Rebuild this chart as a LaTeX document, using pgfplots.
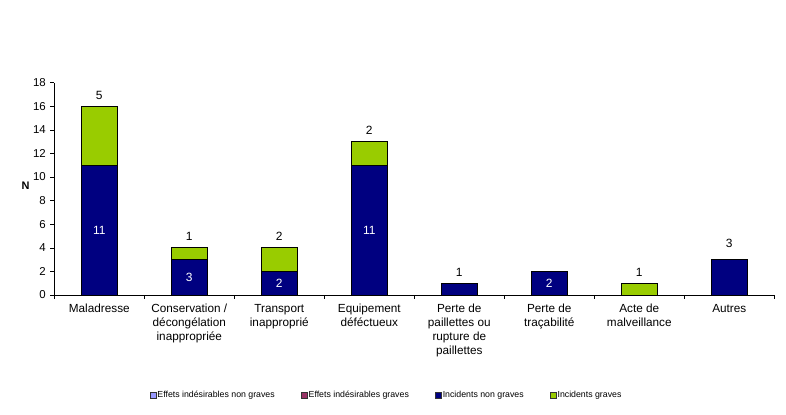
\documentclass[border=0pt]{standalone}
\usepackage{fontspec}
\setmainfont{Liberation Sans}
\usepackage{pgfplots}
\pgfplotsset{compat=1.18}
\definecolor{navyinc}{RGB}{0,0,128}
\definecolor{greeninc}{RGB}{153,204,0}
\definecolor{lavend}{RGB}{153,153,255}
\definecolor{plumeig}{RGB}{153,51,102}

\pgfplotsset{
  common/.style={
    scale only axis, width=720bp, height=212.3bp,
    at={(54.3bp,120bp)}, anchor=south west,
    xmin=-0.5, xmax=7.5, ymin=0, ymax=18,
  },
  sq legend/.style={legend image code/.code={
    \draw[##1, draw=black!80, line width=0.5bp] (0bp,-3bp) rectangle (6bp,3bp);}},
}

\begin{document}
\begin{tikzpicture}
\useasboundingbox (0,0) rectangle (786bp,415bp);
\begin{axis}[common,
  ybar stacked, bar width=36bp,
  axis x line*=bottom, axis y line*=left,
  x axis line style={-, line width=0.6bp},
  y axis line style={-, line width=0.6bp},
  xtick={0,...,7},
  xticklabels={Maladresse, {Conservation /\\décongélation\\inappropriée},
    {Transport\\inapproprié}, {Equipement\\déféctueux},
    {Perte de\\paillettes ou\\rupture de\\paillettes}, {Perte de\\traçabilité},
    {Acte de\\malveillance}, Autres},
  major x tick style={draw=none},
  minor xtick={-0.5,0.5,...,7.5},
  minor tick length=4bp, major tick length=4bp,
  tick align=outside,
  tick style={line width=0.6bp, black},
  x tick label style={align=center, font=\fontsize{11.8}{14}\selectfont, yshift=-1.5bp},
  ytick={0,2,...,18},
  y tick label style={font=\fontsize{11.5}{13}\selectfont, xshift=-1bp},
  /pgf/number format/assume math mode=true,
  ylabel={\textbf{N}},
  every axis y label/.style={at={(axis description cs:-0.040,0.513)}, anchor=center,
    font=\fontsize{11}{13}\selectfont},
  legend style={draw=none, at={(axis description cs:0.461,-0.471)}, anchor=center,
    font=\fontsize{8.8}{10}\selectfont, legend columns=4,
    /tikz/every even column/.append style={column sep=25bp},
    nodes={inner xsep=1.2bp}},
  legend cell align=left,
  sq legend,
]
\addlegendimage{fill=lavend}
\addlegendentry{Effets indésirables non graves}
\addlegendimage{fill=plumeig}
\addlegendentry{Effets indésirables graves}
\addplot[fill=navyinc, draw=black, line width=0.7bp] coordinates
  {(0,11) (1,3) (2,2) (3,11) (4,1) (5,2) (6,0) (7,3)};
\addlegendentry{Incidents non graves}
\addplot[fill=greeninc, draw=black, line width=0.7bp] coordinates
  {(0,5) (1,1) (2,2) (3,2) (4,0) (5,0) (6,1) (7,0)};
\addlegendentry{Incidents graves}
\end{axis}
\begin{axis}[common, hide axis, clip=false]
\addplot[draw=none, nodes near coords, point meta=explicit symbolic,
  every node near coord/.style={anchor=south, yshift=3.5bp, black,
    font=\fontsize{12}{13}\selectfont}]
  coordinates {(0,16)[5] (1,4)[1] (2,4)[2] (3,13)[2] (4,1)[1] (6,1)[1] (7,3.4)[3]};
\addplot[draw=none, nodes near coords, point meta=explicit symbolic,
  every node near coord/.style={anchor=center, white,
    font=\fontsize{12}{13}\selectfont}]
  coordinates {(0,5.5)[11] (1,1.5)[3] (2,1)[2] (3,5.5)[11] (5,1)[2]};
\end{axis}
\end{tikzpicture}
\end{document}
